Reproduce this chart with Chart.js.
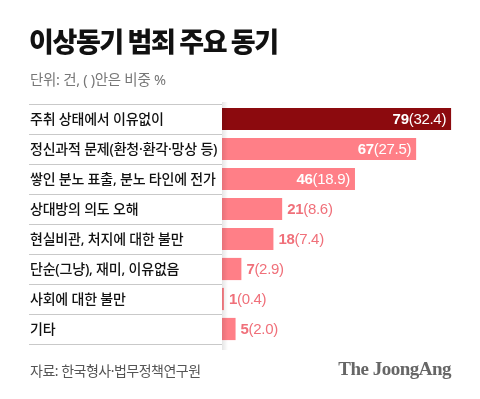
<!DOCTYPE html>
<html>
<head>
<meta charset="utf-8">
<script src="https://cdn.jsdelivr.net/npm/chart.js@4/dist/chart.umd.min.js"></script>
<style>
  body { margin: 0; background: #fff; }
  #wrap { position: relative; width: 480px; height: 399px; overflow: hidden; background: #fff; }
  #chart { position: absolute; left: 0; top: 0; }
  .txt { position: absolute; white-space: nowrap; font-family: "Noto Sans", "Noto Sans CJK KR", sans-serif; }
  #title { left: 29px; top: 25px; font-family: "Noto Sans CJK KR", sans-serif; font-size: 27px; line-height: 32px; font-weight: 900; color: #111; letter-spacing: -1.4px; }
  #sub { left: 30px; top: 70px; font-size: 14.5px; line-height: 18px; color: #777; letter-spacing: -0.3px; }
  #src { left: 30px; top: 362px; font-size: 14px; line-height: 18px; color: #555; letter-spacing: -0.5px; }
  #logo { right: 29px; top: 358px; font-family: "Liberation Serif", "DejaVu Serif", serif; font-size: 19px; line-height: 22px; font-weight: 700; color: #666; letter-spacing: -0.5px; }
</style>
</head>
<body>
<div id="wrap">
  <canvas id="chart" width="480" height="399"></canvas>
  <div class="txt" id="title">이상동기 범죄 주요 동기</div>
  <div class="txt" id="sub">단위: 건, ( )안은 비중 %</div>
  <div class="txt" id="src">자료: 한국형사·법무정책연구원</div>
  <div class="txt" id="logo">The JoongAng</div>
</div>
<script>
// ---------- data ----------
const categories = [
  '주취 상태에서 이유없이',
  '정신과적 문제(환청·환각·망상 등)',
  '쌓인 분노 표출, 분노 타인에 전가',
  '상대방의 의도 오해',
  '현실비관, 처지에 대한 불만',
  '단순(그냥), 재미, 이유없음',
  '사회에 대한 불만',
  '기타'
];
const counts = [79, 67, 46, 21, 18, 7, 1, 5];
const shares = ['32.4', '27.5', '18.9', '8.6', '7.4', '2.9', '0.4', '2.0'];

const DARK = '#8c0a0e';
const PINK = '#ff7f87';
const PINK_TEXT = '#f0707a';

// ---------- label panel + value labels ----------
const panelPlugin = {
  id: 'panel',
  afterDatasetsDraw(chart) {
    const ctx = chart.ctx;
    const y = chart.scales.y;
    const area = chart.chartArea;
    const panelL = 29, panelR = 222;

    ctx.save();
    // white box over the bar starts
    ctx.fillStyle = '#fff';
    ctx.fillRect(0, area.top - 2, panelR, area.bottom - area.top + 6);
    // soft shadow on the right edge
    const g = ctx.createLinearGradient(panelR, 0, panelR + 6, 0);
    g.addColorStop(0, 'rgba(0,0,0,0.10)');
    g.addColorStop(1, 'rgba(0,0,0,0)');
    ctx.fillStyle = g;
    ctx.fillRect(panelR, area.top - 2, 6, area.bottom - area.top + 8);

    // separators
    ctx.strokeStyle = '#c9c9c9';
    ctx.lineWidth = 1;
    const step = (area.bottom - area.top) / categories.length;
    for (let i = 0; i <= categories.length; i++) {
      const ly = Math.round(area.top + i * step) + 0.5;
      ctx.beginPath();
      ctx.moveTo(panelL, ly);
      ctx.lineTo(panelR, ly);
      ctx.stroke();
    }

    // category labels
    ctx.fillStyle = '#111';
    ctx.font = '500 14px "Noto Sans", "Noto Sans CJK KR", sans-serif';
    ctx.textBaseline = 'middle';
    ctx.textAlign = 'left';
    if ('letterSpacing' in ctx) ctx.letterSpacing = '-0.2px';
    categories.forEach((c, i) => {
      ctx.fillText(c, 30, y.getPixelForValue(i) + 1);
    });
    if ('letterSpacing' in ctx) ctx.letterSpacing = '-0.3px';

    // value labels
    const meta = chart.getDatasetMeta(0);
    const boldFont = '700 15px "Liberation Sans", Arial, sans-serif';
    const regFont = '400 15px "Liberation Sans", Arial, sans-serif';
    meta.data.forEach((bar, i) => {
      const a = String(counts[i]);
      const b = '(' + shares[i] + ')';
      ctx.font = boldFont;
      const wa = ctx.measureText(a).width;
      ctx.font = regFont;
      const wb = ctx.measureText(b).width;
      const inside = counts[i] > 30;
      let x;
      if (inside) {
        x = bar.x - 5 - wa - wb;
        ctx.fillStyle = '#fff';
      } else {
        x = bar.x + 5;
        ctx.fillStyle = PINK_TEXT;
      }
      const ty = bar.y + 1;
      ctx.font = boldFont;
      ctx.fillText(a, x, ty);
      ctx.font = regFont;
      ctx.fillText(b, x + wa, ty);
    });
    ctx.restore();
  }
};

new Chart(document.getElementById('chart'), {
  type: 'bar',
  data: {
    labels: categories,
    datasets: [{
      data: counts,
      backgroundColor: counts.map((v, i) => i === 0 ? DARK : PINK),
      borderWidth: 0,
      barPercentage: 0.74,
      categoryPercentage: 1
    }]
  },
  options: {
    indexAxis: 'y',
    responsive: false,
    animation: false,
    devicePixelRatio: 1,
    layout: { padding: { left: 221, right: 26, top: 104, bottom: 55 } },
    plugins: { legend: { display: false }, tooltip: { enabled: false } },
    scales: {
      x: { display: false, min: 0, max: 80 },
      y: { display: false }
    }
  },
  plugins: [panelPlugin]
});
</script>
</body>
</html>
